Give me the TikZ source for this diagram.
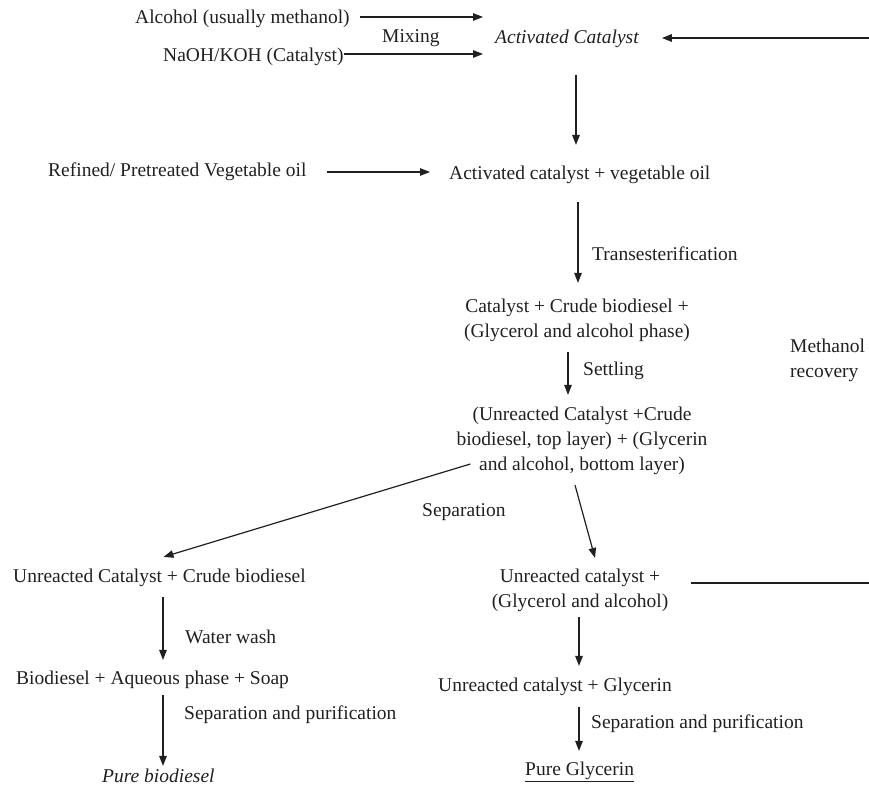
\documentclass[tikz,border=0pt]{standalone}
\usepackage{fontspec}
\setmainfont{Liberation Serif}
\usetikzlibrary{arrows.meta}
\definecolor{ink}{RGB}{35,31,32}
\begin{document}
\begin{tikzpicture}[x=1pt,y=-1pt,
  every node/.style={font=\fontsize{19.5}{25}\selectfont, inner sep=0pt, text=ink},
  arr/.style={draw=ink, line width=1.2pt, -{Triangle[length=10pt,width=7.5pt]}},
  ln/.style={draw=ink, line width=1.2pt}]
\useasboundingbox (0,0) rectangle (869,786);

% nodes
\node[anchor=west] (alc) at (135,19) {Alcohol (usually methanol)};
\node[anchor=west] (naoh) at (163,57) {NaOH/KOH (Catalyst)};
\node[anchor=west] (mix) at (382,38) {Mixing};
\node[anchor=west] (act) at (495,39) {\itshape Activated Catalyst};
\node[anchor=west] (ref) at (48,172) {Refined/ Pretreated Vegetable oil};
\node[anchor=west] (avo) at (449,175) {Activated catalyst + vegetable oil};
\node[anchor=west] (trans) at (592,254) {Transesterification};
\node[align=center] (ccb) at (577,320.5) {Catalyst + Crude biodiesel +\\(Glycerol and alcohol phase)};
\node[anchor=west] (settl) at (583,371) {Settling};
\node[anchor=west, align=left] (meth) at (790,360) {Methanol\\recovery};
\node[align=center] (uc) at (582,441) {(Unreacted Catalyst +Crude\\biodiesel, top layer) + (Glycerin\\and alcohol, bottom layer)};
\node[anchor=west] (sep) at (422,512) {Separation};
\node[anchor=west] (ucb) at (13,578) {Unreacted Catalyst + Crude biodiesel};
\node[align=center] (uga) at (580,590.5) {Unreacted catalyst +\\(Glycerol and alcohol)};
\node[anchor=west] (ww) at (185,637) {Water wash};
\node[anchor=west] (bas) at (16,680) {Biodiesel + Aqueous phase + Soap};
\node[anchor=west] (sp1) at (184,715) {Separation and purification};
\node[anchor=west] (pb) at (102,776) {\itshape Pure biodiesel};
\node[anchor=west] (ucg) at (438,687) {Unreacted catalyst + Glycerin};
\node[anchor=west] (sp2) at (591,724) {Separation and purification};
\node[anchor=west] (pg) at (525,772) {\underline{Pure Glycerin}};

% helper coordinates (right edge, column positions of vertical arrows)
\coordinate (rt) at (869,38);
\coordinate (rb) at (869,583);
\coordinate (colA) at (576,0);
\coordinate (colB) at (578,0);
\coordinate (colC) at (568,0);
\coordinate (colL) at (163,0);
\coordinate (colR) at (579,0);

% connectors
\draw[arr] ([xshift=10pt,yshift=2pt]alc.east) -- ([xshift=-12pt,yshift=2pt]alc.east -| act.west);
\draw[arr] ([yshift=3pt]naoh.east) -- ([xshift=-12pt,yshift=3pt]naoh.east -| act.west);
\draw[arr] (rt) -- ([xshift=23pt]act.east |- rt);
\draw[arr] ([yshift=-27pt]act.south -| colA) -- ([yshift=21pt]avo.north -| colA);
\draw[arr] ([xshift=20pt]ref.east) -- ([xshift=-19pt]ref.east -| avo.west);
\draw[arr] ([yshift=-18pt]avo.south -| colB) -- ([yshift=16pt]ccb.north -| colB);
\draw[arr] ([yshift=-10pt]ccb.south -| colC) -- ([yshift=12pt]uc.north -| colC);
\draw[arr] ([xshift=14pt,yshift=-23pt]uc.west) -- ([xshift=4pt,yshift=12pt]ucb.north);
\draw[arr] ([xshift=-7pt,yshift=-10pt]uc.south) -- ([xshift=15pt,yshift=11pt]uga.north);
\draw[ln] ([xshift=23pt]uga.east |- rb) -- (rb);
\draw[arr] ([yshift=-10pt]ucb.south -| colL) -- ([yshift=11pt]bas.north -| colL);
\draw[arr] ([yshift=-6pt]bas.south -| colL) -- ([yshift=3pt]pb.north -| colL);
\draw[arr] ([yshift=-5pt]uga.south -| colR) -- ([yshift=12pt]ucg.north -| colR);
\draw[arr] ([yshift=-11pt]ucg.south -| colR) -- ([yshift=11pt]pg.north -| colR);
\end{tikzpicture}
\end{document}
